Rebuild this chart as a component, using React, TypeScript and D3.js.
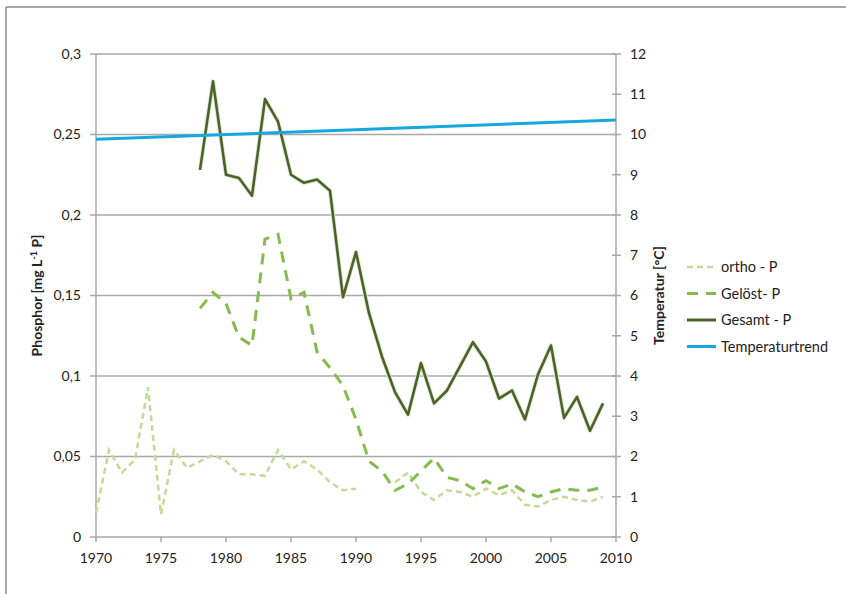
import React from 'react';
import * as d3 from 'd3';

// Data
const years = [
  1970, 1971, 1972, 1973, 1974, 1975, 1976, 1977, 1978, 1979,
  1980, 1981, 1982, 1983, 1984, 1985, 1986, 1987, 1988, 1989,
  1990, 1991, 1992, 1993, 1994, 1995, 1996, 1997, 1998, 1999,
  2000, 2001, 2002, 2003, 2004, 2005, 2006, 2007, 2008, 2009,
];

const orthoP: (number | null)[] = [
  0.015, 0.054, 0.040, 0.048, 0.093, 0.014, 0.054, 0.043, 0.047, 0.051,
  0.047, 0.039, 0.039, 0.038, 0.054, 0.042, 0.047, 0.042, 0.034, 0.029,
  0.030, null, null, 0.034, 0.040, 0.028, 0.023, 0.029, 0.028, 0.025,
  0.030, 0.026, 0.029, 0.020, 0.019, 0.023, 0.025, 0.023, 0.022, 0.025,
];

const geloestP: (number | null)[] = [
  null, null, null, null, null, null, null, null, 0.142, 0.152,
  0.145, 0.124, 0.119, 0.185, 0.188, 0.148, 0.152, 0.115, 0.105, 0.094,
  0.073, 0.047, 0.041, 0.029, 0.033, 0.041, 0.049, 0.037, 0.035, 0.030,
  0.035, 0.030, 0.033, 0.028, 0.025, 0.028, 0.030, 0.029, 0.029, 0.031,
];

const gesamtP: (number | null)[] = [
  null, null, null, null, null, null, null, null, 0.228, 0.283,
  0.225, 0.223, 0.212, 0.272, 0.258, 0.225, 0.220, 0.222, 0.215, 0.149,
  0.177, 0.139, 0.112, 0.090, 0.076, 0.108, 0.083, 0.091, 0.106, 0.121,
  0.109, 0.086, 0.091, 0.073, 0.101, 0.119, 0.074, 0.087, 0.066, 0.083,
];

const trendYears = [1970, 2010];
const tempTrend = [9.88, 10.36];

const xTicks = [1970, 1975, 1980, 1985, 1990, 1995, 2000, 2005, 2010];
const yTicks = [0, 0.05, 0.1, 0.15, 0.2, 0.25, 0.3];
const yTickLabels = ['0', '0,05', '0,1', '0,15', '0,2', '0,25', '0,3'];
const tempTicks = [0, 1, 2, 3, 4, 5, 6, 7, 8, 9, 10, 11, 12];

const legendItems = [
  { label: 'ortho - P', color: '#c0dc98', width: 2.5, dash: '6 4' },
  { label: 'Gelöst- P', color: '#86bb4f', width: 3, dash: '11 8' },
  { label: 'Gesamt - P', color: '#4a6326', width: 3, dash: null },
  { label: 'Temperaturtrend', color: '#16a6e0', width: 3, dash: null },
];

const W = 846;
const H = 594;
const margin = { top: 54, right: 230, bottom: 57, left: 96 };
const font = 'Lato, "Open Sans", sans-serif';
const gridColor = '#a9a9a9';
const textColor = '#222';

export default function App() {
  const x = d3.scaleLinear().domain([1970, 2010]).range([margin.left, W - margin.right]);
  const y = d3.scaleLinear().domain([0, 0.3]).range([H - margin.bottom, margin.top]);
  const yT = d3.scaleLinear().domain([0, 12]).range([H - margin.bottom, margin.top]);

  const line = d3.line<number | null>()
    .defined(d => d !== null)
    .x((_, i) => x(years[i]))
    .y(d => y(d as number));

  const trendLine = d3.line<number>()
    .x((_, i) => x(trendYears[i]))
    .y(d => yT(d));

  const x0 = x.range()[0];
  const x1 = x.range()[1];
  const yBottom = y.range()[0];
  const yTop = y.range()[1];
  const legendX = 687;
  const legendY = 267;
  const legendStep = 26.5;

  return (
    <svg width={W} height={H} style={{ position: 'absolute', left: 0, top: 0, background: '#fff' }}
      fontFamily={font}>
      {/* frame */}
      <line x1={6} x2={W} y1={7} y2={7} stroke="#888" strokeWidth={1.5} />
      <line x1={6} x2={6} y1={7} y2={H} stroke="#888" strokeWidth={1.5} />

      {/* grid */}
      {yTicks.slice(1).map(t => (
        <line key={t} x1={x0} x2={x1} y1={y(t)} y2={y(t)} stroke={gridColor} strokeWidth={1.5} />
      ))}

      {/* axes */}
      <line x1={x0} x2={x0} y1={yTop} y2={yBottom} stroke={gridColor} strokeWidth={1.5} />
      <line x1={x1} x2={x1} y1={yTop} y2={yBottom} stroke={gridColor} strokeWidth={1.5} />
      <line x1={x0} x2={x1} y1={yBottom} y2={yBottom} stroke={gridColor} strokeWidth={1.5} />

      {yTicks.map((t, i) => (
        <g key={t}>
          <line x1={x0 - 6} x2={x0} y1={y(t)} y2={y(t)} stroke={gridColor} strokeWidth={1.5} />
          <text x={x0 - 15} y={y(t)} dy="0.35em" textAnchor="end" fontSize={14} fill={textColor}>
            {yTickLabels[i]}
          </text>
        </g>
      ))}

      {tempTicks.map(t => (
        <g key={t}>
          <line x1={x1 - 4} x2={x1 + 5} y1={yT(t)} y2={yT(t)} stroke={gridColor} strokeWidth={1.5} />
          <text x={x1 + 14} y={yT(t)} dy="0.35em" textAnchor="start" fontSize={14} fill={textColor}>
            {t}
          </text>
        </g>
      ))}

      {xTicks.map(t => (
        <g key={t}>
          <line x1={x(t)} x2={x(t)} y1={yBottom} y2={yBottom + 5} stroke={gridColor} strokeWidth={1.5} />
          <text x={x(t)} y={yBottom + 21} dy="0.35em" textAnchor="middle" fontSize={14} fill={textColor}>
            {t}
          </text>
        </g>
      ))}

      {/* axis titles */}
      <text transform={`translate(42,${(yTop + yBottom) / 2}) rotate(-90)`} textAnchor="middle"
        fontSize={14} fontWeight="bold" fill={textColor}>
        Phosphor [mg L<tspan dy="-5" fontSize={9}>-1</tspan><tspan dy="5"> P]</tspan>
      </text>
      <text transform={`translate(664,${(yTop + yBottom) / 2}) rotate(-90)`} textAnchor="middle"
        fontSize={14} fontWeight="bold" fill={textColor}>
        Temperatur [°C]
      </text>

      {/* series */}
      <path d={line(orthoP) || ''} fill="none" stroke="#c0dc98" strokeWidth={2.5} strokeDasharray="6 4" />
      <path d={line(geloestP) || ''} fill="none" stroke="#86bb4f" strokeWidth={3} strokeDasharray="11 8" />
      <path d={line(gesamtP) || ''} fill="none" stroke="#e4eadb" strokeWidth={4.5} strokeLinejoin="round" />
      <path d={line(gesamtP) || ''} fill="none" stroke="#4a6326" strokeWidth={2.6} strokeLinejoin="round" />
      <path d={trendLine(tempTrend) || ''} fill="none" stroke="#16a6e0" strokeWidth={3} />

      {/* legend */}
      {legendItems.map((item, i) => (
        <g key={item.label} transform={`translate(${legendX},${legendY + i * legendStep})`}>
          <line x1={0} x2={29} y1={0} y2={0} stroke={item.color} strokeWidth={item.width}
            strokeDasharray={item.dash || undefined} />
          <text x={34} y={0} dy="0.35em" fontSize={14.5} fill={textColor}>{item.label}</text>
        </g>
      ))}
    </svg>
  );
}
